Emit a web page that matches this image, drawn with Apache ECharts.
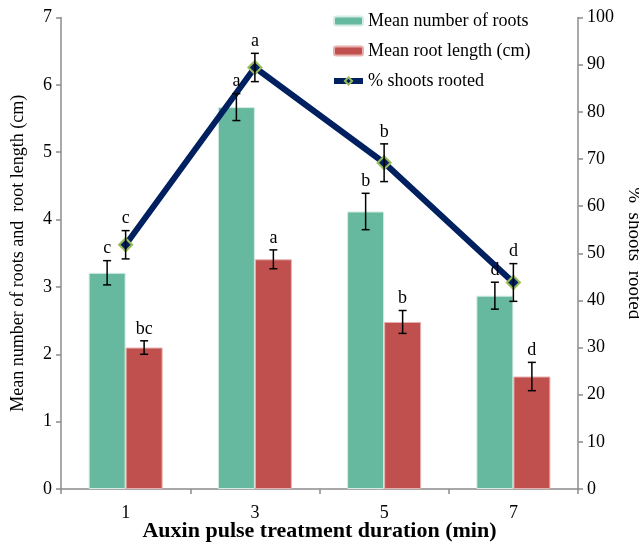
<!DOCTYPE html>
<html>
<head>
<meta charset="utf-8">
<script src="https://cdn.jsdelivr.net/npm/echarts@6/dist/echarts.min.js"></script>
<style>html,body{margin:0;padding:0;background:#fff;}#c{width:639px;height:545px;}</style>
</head>
<body>
<div id="c"></div>
<script>
var categories = ['1', '3', '5', '7'];
var rootsMean = [3.21, 5.67, 4.12, 2.87];
var rootsErr = [0.18, 0.20, 0.27, 0.20];
var rootsLetters = ['c', 'a', 'b', 'd'];
var lengthMean = [2.10, 3.41, 2.48, 1.67];
var lengthErr = [0.10, 0.14, 0.17, 0.21];
var lengthLetters = ['bc', 'a', 'b', 'd'];
var rootedPct = [51.8, 89.4, 69.2, 43.8];
var rootedErr = [3, 3, 4, 4];
var rootedLetters = ['c', 'a', 'b', 'd'];
var leftTicks = [0, 1, 2, 3, 4, 5, 6, 7];
var rightTicks = [0, 10, 20, 30, 40, 50, 60, 70, 80, 90, 100];

var FONT = '"Liberation Serif", "Times New Roman", serif';
var AXIS_COLOR = '#8c8c8c';

function errData(means, errs) {
  return means.map(function (m, i) { return [i, m, errs[i]]; });
}
var letterLookup = {
  'errRoots': rootsLetters,
  'errLength': lengthLetters,
  'errRooted': rootedLetters
};

function errRender(shift) {
  return function (params, api) {
    var idx = api.value(0), m = api.value(1), e = api.value(2);
    var letter = letterLookup[params.seriesName][params.dataIndex];
    var band = api.size([1, 0])[0];
    var c = api.coord([idx, m]);
    var x = c[0] + band * shift;
    var top = api.coord([idx, m + e])[1];
    var bot = api.coord([idx, m - e])[1];
    var cap = 4;
    var st = { stroke: '#000', lineWidth: 1.5 };
    return {
      type: 'group',
      children: [
        { type: 'line', shape: { x1: x, y1: top, x2: x, y2: bot }, style: st },
        { type: 'line', shape: { x1: x - cap, y1: top, x2: x + cap, y2: top }, style: st },
        { type: 'line', shape: { x1: x - cap, y1: bot, x2: x + cap, y2: bot }, style: st },
        { type: 'text', style: { x: x, y: top - 12, text: letter, fill: '#000',
            font: '18px ' + FONT, textAlign: 'center', textVerticalAlign: 'middle' } }
      ]
    };
  };
}

var chart = echarts.init(document.getElementById('c'), null, { renderer: 'canvas' });
var barShift = 0.1431;

chart.setOption({
  animation: false,
  backgroundColor: '#fff',
  textStyle: { fontFamily: FONT },
  grid: { left: 61, right: 61, top: 17.5, bottom: 56, containLabel: false, outerBoundsMode: 'none' },
  legend: {
    orient: 'vertical',
    left: 326, top: 7,
    itemWidth: 29, itemHeight: 9, itemGap: 12,
    textStyle: { fontFamily: FONT, fontSize: 18, color: '#000' },
    data: [
      'Mean number of roots',
      'Mean root length (cm)',
      { name: '% shoots rooted', lineStyle: { width: 6, color: '#002060' } }
    ]
  },
  xAxis: {
    type: 'category',
    data: categories,
    boundaryGap: true,
    axisLine: { lineStyle: { color: AXIS_COLOR, width: 1.5 } },
    axisTick: { show: true, length: 5, lineStyle: { color: AXIS_COLOR, width: 1.5 } },
    axisLabel: { fontFamily: FONT, fontSize: 18, color: '#000', margin: 15 },
    name: 'Auxin pulse treatment duration (min)',
    nameLocation: 'middle',
    nameGap: 31,
    nameMoveOverlap: false,
    nameTextStyle: { fontFamily: FONT, fontSize: 22, fontWeight: 'bold', color: '#000' }
  },
  yAxis: [
    {
      type: 'value', min: 0, max: 7, interval: 1,
      axisLine: { show: true, lineStyle: { color: AXIS_COLOR, width: 1.5 } },
      axisTick: { show: true, length: 5, lineStyle: { color: AXIS_COLOR, width: 1.5 } },
      splitLine: { show: false },
      axisLabel: { fontFamily: FONT, fontSize: 18, color: '#000', margin: 9 },
      name: 'Mean number of roots and  root length (cm)',
      nameLocation: 'middle', nameGap: 34,
      nameTextStyle: { fontFamily: FONT, fontSize: 18, color: '#000' }
    },
    {
      type: 'value', min: 0, max: 100, interval: 10, position: 'right',
      axisLine: { show: true, lineStyle: { color: AXIS_COLOR, width: 1.5 } },
      axisTick: { show: true, length: 5, lineStyle: { color: AXIS_COLOR, width: 1.5 } },
      splitLine: { show: false },
      axisLabel: { fontFamily: FONT, fontSize: 18, color: '#000', margin: 9 },
      name: '%  shoots  rooted',
      nameLocation: 'middle', nameGap: 44, nameRotate: -90,
      nameTextStyle: { fontFamily: FONT, fontSize: 19, color: '#000' }
    }
  ],
  series: [
    {
      name: 'Mean number of roots', type: 'bar', data: rootsMean,
      barWidth: 37, barGap: '0%',
      itemStyle: { color: '#66b99e', borderColor: '#d4ece3', borderWidth: 1 }
    },
    {
      name: 'Mean root length (cm)', type: 'bar', data: lengthMean,
      barWidth: 37, barGap: '0%',
      itemStyle: { color: '#c0504d', borderColor: '#e6b0ae', borderWidth: 1 }
    },
    {
      name: '% shoots rooted', type: 'line', yAxisIndex: 1, data: rootedPct,
      symbol: 'diamond', symbolSize: 13, z: 5,
      lineStyle: { color: '#002060', width: 6 },
      itemStyle: { color: '#002060', borderColor: '#9bbb59', borderWidth: 2 }
    },
    {
      name: 'errRoots', type: 'custom', z: 10, data: errData(rootsMean, rootsErr),
      renderItem: errRender(-barShift), silent: true
    },
    {
      name: 'errLength', type: 'custom', z: 10, data: errData(lengthMean, lengthErr),
      renderItem: errRender(barShift), silent: true
    },
    {
      name: 'errRooted', type: 'custom', z: 10, yAxisIndex: 1, data: errData(rootedPct, rootedErr),
      renderItem: errRender(0), silent: true
    }
  ]
});
</script>
</body>
</html>
